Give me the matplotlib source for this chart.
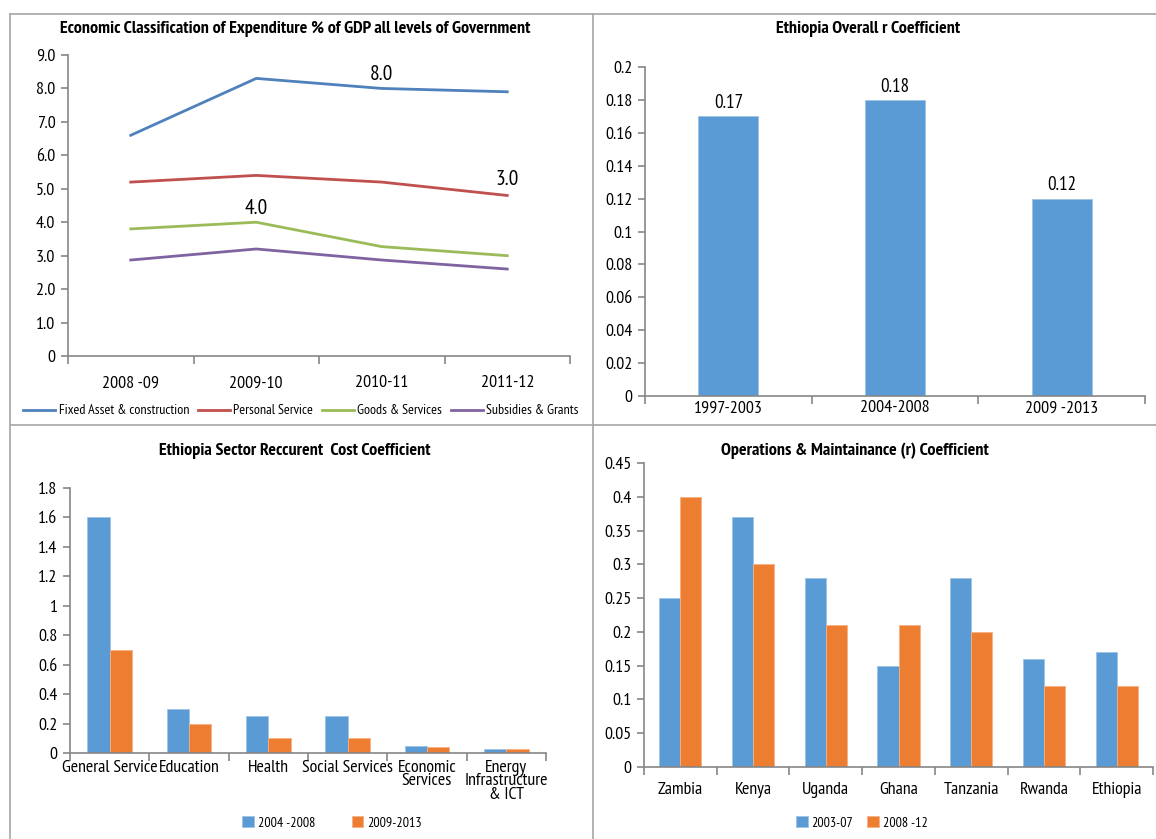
import matplotlib
matplotlib.use("Agg")
import matplotlib.pyplot as plt
from matplotlib.lines import Line2D
from matplotlib.ticker import FixedLocator, NullFormatter, FixedFormatter
import numpy as np
from matplotlib import font_manager

# ---- data -------------------------------------------------------------
years_exp = ["2008 -09", "2009-10", "2010-11", "2011-12"]
fixed_asset = [6.6, 8.3, 8.0, 7.9]
personal_service = [5.2, 5.4, 5.2, 4.8]
goods_services = [3.8, 4.0, 3.27, 3.0]
subsidies_grants = [2.87, 3.2, 2.87, 2.6]

overall_periods = ["1997-2003", "2004-2008", "2009 -2013"]
overall_r = [0.17, 0.18, 0.12]

sectors = ["General Service", "Education", "Health", "Social Services",
           "Economic\nServices", "Energy\nInfrastructure\n& ICT"]
sector_2004_2008 = [1.6, 0.3, 0.25, 0.25, 0.05, 0.03]
sector_2009_2013 = [0.7, 0.2, 0.1, 0.1, 0.04, 0.025]

countries = ["Zambia", "Kenya", "Uganda", "Ghana", "Tanzania", "Rwanda", "Ethiopia"]
om_2003_07 = [0.25, 0.37, 0.28, 0.15, 0.28, 0.16, 0.17]
om_2008_12 = [0.40, 0.30, 0.21, 0.21, 0.20, 0.12, 0.12]

# ---- font: prefer a condensed sans ------------------------------------
names = {f.name for f in font_manager.fontManager.ttflist}
FONT = "DejaVu Sans"
for cand in ["PT Sans Narrow", "Roboto Condensed", "Open Sans Condensed",
             "Liberation Sans Narrow", "Archivo Narrow", "Fira Sans Condensed"]:
    if cand in names:
        FONT = cand
        break
plt.rcParams["font.family"] = [FONT, "DejaVu Sans"]

W, H = 1156, 839
BLUE = "#5B9BD5"
ORANGE = "#ED7D31"
AXC = "#868686"
FRAME = "#A6A6A6"

fig = plt.figure(figsize=(W / 100, H / 100), dpi=100)
fig.patch.set_facecolor("white")
renderer = fig.canvas.get_renderer()


def size_for(text, target_px, weight="normal"):
    """Font size (pt) at which `text` is `target_px` wide."""
    t = fig.text(0, 0, text, fontsize=10, fontweight=weight)
    w = t.get_window_extent(renderer).width
    t.remove()
    return 10 * target_px / w


TITLE_FS = size_for("Economic Classification of Expenditure % of GDP all levels of Government", 470, "bold")
TICK_FS = size_for("General Service", 96)
LEG_FS = size_for("Fixed Asset & construction", 130)
LBL_FS = size_for("8.0", 23)
BARLBL_FS = size_for("0.17", 29)


def rect(x0, yt, x1, yb):
    return [x0 / W, 1 - yb / H, (x1 - x0) / W, (yb - yt) / H]


def fx(x):
    return x / W


def fy(y):
    return 1 - y / H


# panel frame
for (xa, ya, xb, yb) in [(10, 14, 1156, 14), (10, 14, 10, 839), (593, 14, 593, 839),
                         (10, 425, 1156, 425)]:
    fig.add_artist(Line2D([fx(xa), fx(xb)], [fy(ya), fy(yb)], color=FRAME, lw=1.2))


def style_axes(ax, n, pad):
    for s in ("top", "right"):
        ax.spines[s].set_visible(False)
    for s in ("left", "bottom"):
        ax.spines[s].set_color(AXC)
        ax.spines[s].set_linewidth(1.2)
    ax.set_xlim(-0.5, n - 0.5)
    ax.xaxis.set_major_locator(FixedLocator(np.arange(n + 1) - 0.5))
    ax.xaxis.set_major_formatter(NullFormatter())
    ax.xaxis.set_minor_locator(FixedLocator(np.arange(n)))
    ax.tick_params(axis="x", which="major", length=6, color=AXC, width=1.2)
    ax.tick_params(axis="x", which="minor", length=0, pad=pad, labelsize=TICK_FS)
    ax.tick_params(axis="y", length=5, color=AXC, width=1.2, labelsize=TICK_FS, pad=4)


# ---- top-left: line chart ----------------------------------------------
ax1 = fig.add_axes(rect(68, 55, 570, 356))
x = np.arange(len(years_exp))
series = [
    (fixed_asset, "#4F81BD", "Fixed Asset & construction"),
    (personal_service, "#C0504D", "Personal Service"),
    (goods_services, "#9BBB59", "Goods & Services"),
    (subsidies_grants, "#8064A2", "Subsidies & Grants"),
]
handles = []
for vals, col, lab in series:
    h, = ax1.plot(x, vals, color=col, lw=2.0, label=lab)
    handles.append(h)
ax1.set_ylim(0, 9)
ax1.set_yticks(np.arange(0, 10))
ax1.set_yticklabels(["0"] + [f"{v:.1f}" for v in range(1, 10)])
style_axes(ax1, len(years_exp), 14)
ax1.xaxis.set_minor_formatter(FixedFormatter(years_exp))
ax1.annotate(f"{fixed_asset[2]:.1f}", (2, fixed_asset[2]), xytext=(0, 3),
             textcoords="offset points", ha="center", va="bottom", fontsize=LBL_FS)
ax1.annotate(f"{goods_services[1]:.1f}", (1, goods_services[1]), xytext=(0, 3),
             textcoords="offset points", ha="center", va="bottom", fontsize=LBL_FS)
ax1.annotate(f"{goods_services[3]:.1f}", (3, personal_service[3]), xytext=(0, 5),
             textcoords="offset points", ha="center", va="bottom", fontsize=LBL_FS)
fig.text(fx(295), fy(29), "Economic Classification of Expenditure % of GDP all levels of Government",
         ha="center", va="center", fontsize=TITLE_FS, fontweight="bold")
fig.legend(handles=handles, loc="center", bbox_to_anchor=(fx(301), fy(411)), ncol=4,
           frameon=False, fontsize=LEG_FS, handlelength=2.3, columnspacing=0.6,
           handletextpad=0.25)

# ---- top-right: single bar chart --------------------------------------
ax2 = fig.add_axes(rect(645, 67, 1145, 396))
xb = np.arange(len(overall_periods))
ax2.bar(xb, overall_r, width=0.36, color=BLUE, edgecolor="#9DC3E6", linewidth=0.6)
ax2.set_ylim(0, 0.2)
ax2.set_yticks(np.arange(0, 0.201, 0.02))
ax2.set_yticklabels(["0"] + [f"{v:g}" for v in np.round(np.arange(0.02, 0.201, 0.02), 2)])
style_axes(ax2, len(overall_periods), 3)
ax2.xaxis.set_minor_formatter(FixedFormatter(overall_periods))
for xi, v in zip(xb, overall_r):
    ax2.annotate(f"{v:.2f}", (xi, v), xytext=(0, 3), textcoords="offset points",
                 ha="center", va="bottom", fontsize=BARLBL_FS)
fig.text(fx(868), fy(29), "Ethiopia Overall r Coefficient", ha="center", va="center",
         fontsize=TITLE_FS, fontweight="bold")

# ---- bottom-left: sector grouped bars ---------------------------------
ax3 = fig.add_axes(rect(70, 488, 546, 753))
xs = np.arange(len(sectors))
bw = 0.28
b1 = ax3.bar(xs - bw / 2, sector_2004_2008, width=bw, color=BLUE, edgecolor="#9DC3E6",
             linewidth=0.6, label="2004 -2008")
b2 = ax3.bar(xs + bw / 2, sector_2009_2013, width=bw, color=ORANGE, edgecolor="#F4B183",
             linewidth=0.6, label="2009-2013")
ax3.set_ylim(0, 1.8)
ax3.set_yticks(np.arange(0, 1.81, 0.2))
ax3.set_yticklabels(["0"] + [f"{v:g}" for v in np.round(np.arange(0.2, 1.81, 0.2), 1)])
style_axes(ax3, len(sectors), 5)
ax3.xaxis.set_minor_formatter(FixedFormatter(sectors))
for t in ax3.xaxis.get_minor_ticks():
    t.label1.set_linespacing(0.78)
fig.text(fx(295), fy(451), "Ethiopia Sector Reccurent  Cost Coefficient", ha="center",
         va="center", fontsize=TITLE_FS, fontweight="bold")
fig.legend(handles=[b1, b2], loc="center", bbox_to_anchor=(fx(332), fy(823)), ncol=2,
           frameon=False, fontsize=LEG_FS, handlelength=0.8, handleheight=0.8,
           columnspacing=2.6, handletextpad=0.3)

# ---- bottom-right: country grouped bars -------------------------------
ax4 = fig.add_axes(rect(644, 463, 1153, 767))
xc = np.arange(len(countries))
bw = 0.29
c1 = ax4.bar(xc - bw / 2, om_2003_07, width=bw, color=BLUE, edgecolor="#9DC3E6",
             linewidth=0.6, label="2003-07")
c2 = ax4.bar(xc + bw / 2, om_2008_12, width=bw, color=ORANGE, edgecolor="#F4B183",
             linewidth=0.6, label="2008 -12")
ax4.set_ylim(0, 0.45)
ax4.set_yticks(np.arange(0, 0.451, 0.05))
ax4.set_yticklabels(["0"] + [f"{v:g}" for v in np.round(np.arange(0.05, 0.451, 0.05), 2)])
style_axes(ax4, len(countries), 11)
ax4.xaxis.set_minor_formatter(FixedFormatter(countries))
fig.text(fx(855), fy(451), "Operations & Maintainance (r) Coefficient", ha="center",
         va="center", fontsize=TITLE_FS, fontweight="bold")
fig.legend(handles=[c1, c2], loc="center", bbox_to_anchor=(fx(862), fy(823)), ncol=2,
           frameon=False, fontsize=LEG_FS, handlelength=0.8, handleheight=0.8,
           columnspacing=1.0, handletextpad=0.3)

fig.savefig("out.png", dpi=100, facecolor="white")
